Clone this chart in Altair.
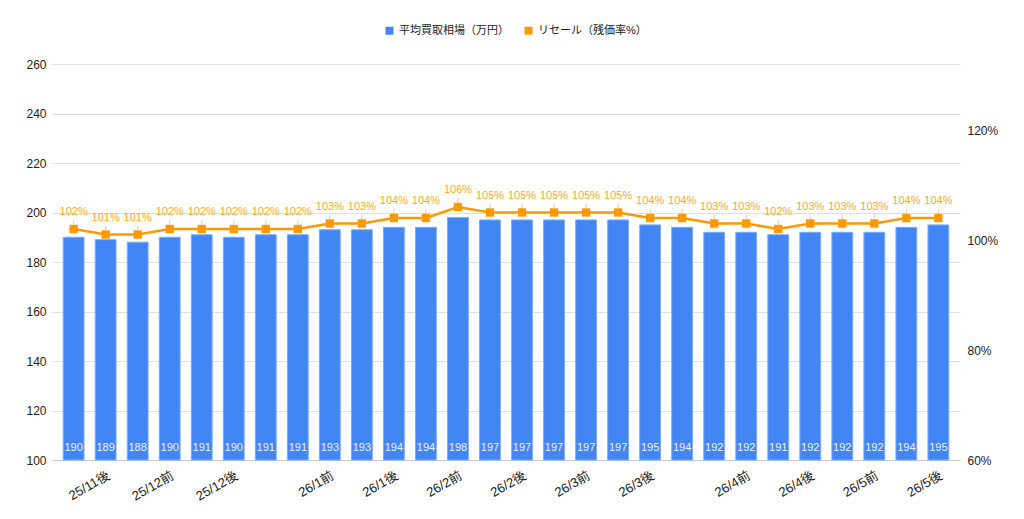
import altair as alt
import pandas as pd

tick_labels = ["", "25/11後", "", "25/12前", "", "25/12後", "", "", "26/1前", "", "26/1後", "",
               "26/2前", "", "26/2後", "", "26/3前", "", "26/3後", "", "", "26/4前", "", "26/4後",
               "", "26/5前", "", "26/5後"]
price = [190, 189, 188, 190, 191, 190, 191, 191, 193, 193, 194, 194, 198, 197,
         197, 197, 197, 197, 195, 194, 192, 192, 191, 192, 192, 192, 194, 195]
resale = [102, 101, 101, 102, 102, 102, 102, 102, 103, 103, 104, 104, 106, 105,
          105, 105, 105, 105, 104, 104, 103, 103, 102, 103, 103, 103, 104, 104]

s1 = "平均買取相場（万円）"
s2 = "リセール（残価率%）"

df = pd.DataFrame({"idx": list(range(len(price))), "price": price, "resale": resale,
                   "s1": s1, "s2": s2})

FONT = "Liberation Sans, Arial, Noto Sans CJK JP"
BLUE = "#4285F4"
ORANGE = "#FF9900"

label_js = "[" + ",".join("'" + t + "'" for t in tick_labels) + "]"

x = alt.X("idx:O", title=None,
          scale=alt.Scale(paddingInner=0.35, paddingOuter=0.35),
          axis=alt.Axis(labelExpr=label_js + "[datum.value]", labelAngle=-30,
                        labelAlign="right", labelBaseline="top", labelFontSize=13,
                        labelColor="#222222", ticks=False, domain=True, grid=False,
                        domainColor="#cccccc", labelPadding=9, labelFont=FONT))

cscale = alt.Scale(domain=[s1, s2], range=[BLUE, ORANGE])
legend = alt.Legend(orient="none", legendX=332, legendY=-39, direction="horizontal",
                    title=None, symbolType="square", symbolSize=64,
                    labelFontSize=11, labelFont=FONT, labelColor="#222222",
                    columnPadding=14, symbolStrokeWidth=0)

ly = alt.Scale(domain=[100, 260], zero=False, nice=False)
yl = alt.Y("price:Q", title=None, scale=ly,
           axis=alt.Axis(values=[100, 120, 140, 160, 180, 200, 220, 240, 260], grid=True,
                         gridColor="#e0e0e0", ticks=False, domain=False, labelFontSize=12,
                         labelColor="#222222", labelPadding=6, labelFont=FONT))

bars = alt.Chart(df).mark_bar(stroke="#7baaf7", strokeWidth=1).encode(
    x=x, y=yl, y2=alt.datum(100),
    color=alt.Color("s1:N", scale=cscale, legend=legend))

bar_text = alt.Chart(df).mark_text(baseline="middle", dy=-12, fontSize=11, font=FONT,
                                   color="white", opacity=0.9).encode(
    x=x, y=alt.datum(100), text="price:Q")

left = alt.layer(bars, bar_text)

ry = alt.Scale(domain=[60, 132], zero=False, nice=False)
yr = alt.Y("resale:Q", title=None, scale=ry,
           axis=alt.Axis(orient="right", values=[60, 80, 100, 120], grid=False, ticks=False,
                         domain=False, labelExpr="datum.value + '%'", labelFontSize=12,
                         labelColor="#222222", labelPadding=7, labelFont=FONT))

base_r = alt.Chart(df)
stem = base_r.transform_calculate(top="datum.resale + 1.6").mark_rule(
    color="#cccccc", strokeWidth=1).encode(x=x, y=yr, y2="top:Q")
line = base_r.mark_line(strokeWidth=2.5, point=alt.OverlayMarkDef(shape="square", size=70, filled=True, color=ORANGE)).encode(
    x=x, y=yr, color=alt.Color("s2:N", scale=cscale, legend=legend))
line_text = base_r.transform_calculate(lbl="datum.resale + '%'").mark_text(
    baseline="middle", dy=-17, fontSize=11, font=FONT, color="#FFA826").encode(
    x=x, y=yr, text="lbl:N")

right = alt.layer(stem, line, line_text)

chart = alt.layer(left, right).resolve_scale(y="independent").properties(
    width=908, height=396, background="white",
    autosize=alt.AutoSizeParams(type="none"),
    padding={"left": 52, "top": 64, "right": 64, "bottom": 59},
).configure_view(strokeWidth=0, stroke="transparent")

chart.save("out.html", embed_options={"renderer": "svg", "actions": False})
